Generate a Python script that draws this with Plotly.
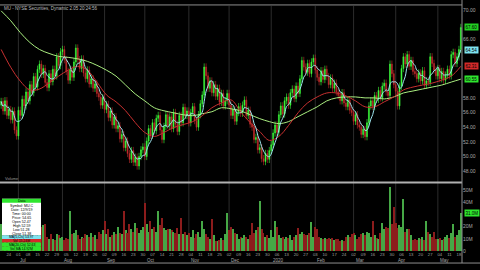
import pandas as pd
import plotly.graph_objects as go

# ---------------- data ----------------
close = [
    57.5, 56.2, 57.6, 55.6, 56.4, 55.0, 56.2, 53.6, 52.8, 56.3, 55.6,
    57.8, 56.9, 58.8, 57.6, 59.8, 58.7, 60.9, 59.5, 61.9, 62.6,
    61.2, 62.0, 60.1, 59.4, 61.3, 60.2,
    61.9, 61.0, 63.6, 62.4, 64.3, 64.6, 63.2,
    61.6, 60.4, 61.8, 60.8,
    62.9, 64.8,
    63.2, 62.0, 63.3, 61.4, 60.6, 61.8, 59.9, 60.6, 59.3, 59.9, 58.6, 58.1,
    57.0, 58.0, 56.4, 57.1, 55.3,
    56.2, 54.3, 55.4, 53.8, 54.2,
    52.4, 53.0, 51.2, 52.1, 50.4,
    49.6, 50.8, 49.2, 49.9, 48.7, 50.0,
    50.9, 51.3, 50.0,
    52.1, 53.8, 52.9, 54.6, 53.5, 55.2,
    55.6, 53.6, 52.3, 54.1, 55.7, 54.2,
    55.4, 53.8, 56.0, 54.4,
    53.4, 55.6, 54.6, 56.7, 55.6, 56.2,
    54.6, 56.0, 56.8, 54.9, 54.0, 55.7,
    57.2, 58.4, 62.2, 61.0, 59.3, 60.3, 58.7,
    59.8, 58.2, 59.3, 57.4, 58.6, 56.9, 57.6,
    58.6, 57.0, 55.6, 56.4, 54.8, 56.0,
    56.8, 55.9, 57.0, 57.7, 55.6, 56.3,
    54.4, 54.0, 52.3,
    52.6, 50.9, 51.2, 49.7, 49.3, 50.4, 49.6,
    50.8, 51.6, 53.2, 54.3, 53.3,
    55.7, 56.9, 55.8, 57.6,
    58.1, 57.0, 58.7, 59.2, 57.9, 59.6, 58.6,
    60.6, 63.1, 62.2, 61.5, 62.7, 61.3,
    62.9, 63.4, 61.8, 60.8,
    60.2, 61.7, 60.5, 61.9, 60.9, 59.8, 60.7, 59.3, 60.0, 58.8,
    58.3, 57.6, 58.7, 57.3, 56.8, 57.7, 56.3,
    56.0, 54.8, 55.7, 54.3, 54.0, 53.0, 53.7, 52.7,
    54.6, 56.9, 57.6, 56.8, 58.3,
    57.8, 59.0, 58.0, 59.6, 60.0, 58.8, 58.3, 62.6, 61.3, 59.8, 58.9,
    56.9, 59.6,
    62.0, 63.6, 62.6, 63.9,
    62.3, 63.1, 61.6,
    61.3, 60.6, 61.4, 60.3, 61.7, 59.7, 60.3,
    60.1, 63.6, 62.7,
    61.8, 61.0, 62.0, 60.6, 61.6, 60.4,
    61.1, 61.9, 61.0,
    63.9, 64.2, 62.7, 63.6, 64.6, 67.6,
]
first_open = 57.0
wick = 0.5

volume = [  # millions
    22, 18, 25, 15, 20, 17, 24, 28, 30, 26, 18, 16, 14, 19, 15, 13, 17, 14, 16, 12, 15, 20,
    21, 22, 12, 10, 14, 10, 9, 14, 13, 11, 12, 9, 11, 10,
    33, 14, 15, 17, 13, 10, 12, 11, 14, 13, 12, 15, 12, 13, 10,
    16, 14, 17, 25, 14, 18, 12, 13, 16, 14, 20, 15, 14, 33, 17,
    15, 22, 18, 16, 23, 19, 15, 17, 20, 39, 22, 16, 25, 18, 20,
    16, 33, 21, 27, 19, 17, 18, 18, 17, 16, 15, 19, 14, 27, 14,
    16, 13, 15, 12, 17, 11, 14, 16, 12, 25, 18, 14, 12, 10, 26,
    13, 8, 8, 9, 11, 9, 14, 31, 17, 20, 18, 15, 14, 10, 12,
    11, 13, 12, 10, 13, 23, 15, 17, 20, 41, 18, 15, 12, 13, 11,
    17, 12, 25, 20, 13, 11, 12, 10, 12, 11, 13, 9, 12, 13, 19,
    14, 16, 14, 13, 13, 15, 24, 12, 20, 18, 12, 11, 10, 11, 10,
    11, 10, 11, 9, 10, 10, 8, 9, 8, 12, 13, 12, 14, 15, 13,
    10, 12, 14, 15, 13, 16, 15, 12, 25, 13, 11, 10, 15, 23, 18,
    20, 19, 52, 22, 36, 23, 19, 21, 20, 43, 16, 18, 18, 13, 9,
    10, 9, 11, 10, 12, 9, 25, 16, 14, 12, 16, 10, 10, 11, 9,
    10, 12, 13, 11, 15, 22, 12, 13, 17, 31,
]

# moving averages read every 5 sessions
ma_step = 5
ma_red = [
    64.60, 62.17, 60.28, 59.07, 59.20, 60.01, 60.96, 61.77, 62.31, 61.77,
    60.15, 58.39, 57.45, 56.23, 54.62, 53.27, 52.73, 53.27, 53.94, 54.35,
    54.75, 55.56, 56.64, 57.31, 57.72, 56.10, 54.62, 53.40, 52.19, 52.73,
    54.21, 55.96, 57.31, 58.12, 58.66, 58.66, 58.26, 57.58, 56.77, 56.77,
    57.45, 58.12, 59.07, 59.47, 59.74, 60.01, 60.42, 60.96, 62.31,
]
ma_green = [
    69.87, 68.52, 66.90, 65.55, 64.60, 64.06, 63.66, 63.52, 63.32, 62.98,
    62.44, 61.77, 60.96, 59.74, 58.53, 57.58, 56.64, 56.23, 55.96, 55.69,
    55.56, 55.83, 56.10, 56.64, 56.50, 56.23, 55.69, 55.16, 54.75, 54.48,
    54.75, 55.43, 56.10, 56.77, 57.58, 57.99, 58.12, 58.12, 57.99, 57.99,
    57.85, 58.12, 58.66, 58.93, 59.20, 59.47, 59.74, 60.15, 60.55,
]
short_ma_len = 5

price_ticks = [48, 50, 52, 54, 56, 58, 60, 62, 64, 66, 68, 70]
vol_ticks = [0, 10, 20, 30, 40, 50]
vol_tick_labels = ["0", "10M", "20M", "30M", "40M", "50M"]
title_text = "MU - NYSE Securities, Dynamic 2.05 20:24:56"
info_header = "Data"
info_lines = ["Symbol: MU.C", "Date: 12/9/19", "Time: 00:00", "Price: 54.65",
              "Open 52.47", "High 52.59", "Low 51.28", "Close 51.38"]
info_bands = [("MA(5,Cls) 53.97", "#7fe3f0"), ("Vol 15.24M", "#d42a2a"),
              ("MA(20,Cls) 52.63", "#2ee62e"), ("Vol MA 14.92M", "#2ee62e")]

# ---------------- derived ----------------
dates = pd.bdate_range("2019-06-18", periods=len(close))
idx = list(range(len(close)))
opens = [first_open] + close[:-1]
high = [max(o, c) + wick for o, c in zip(opens, close)]
low = [min(o, c) - wick for o, c in zip(opens, close)]
short_ma = pd.Series(close).rolling(short_ma_len, min_periods=1).mean().tolist()
ma_x = [i * ma_step for i in range(len(ma_red))]

GREEN = "#3dff3d"
RED = "#c22c2c"
VG = "#46a846"
VR = "#8c1c1c"
vol_colors = [VG if c >= o else VR for o, c in zip(opens, close)]

W, H = 480, 270
def py(px):
    return (H - px) / H
def pxx(px):
    return px / W

XR = 462 / W
FONT = "Liberation Sans"

fig = go.Figure()
fig.add_trace(go.Candlestick(
    x=idx, open=opens, high=high, low=low, close=close,
    increasing=dict(line=dict(color=GREEN, width=0.6), fillcolor=GREEN),
    decreasing=dict(line=dict(color=RED, width=0.6), fillcolor=RED),
    whiskerwidth=0, showlegend=False, hoverinfo="skip", xaxis="x", yaxis="y"))
fig.add_trace(go.Scatter(x=ma_x, y=ma_green, mode="lines",
                         line=dict(color="#aaee80", width=1, shape="spline"),
                         showlegend=False, hoverinfo="skip", xaxis="x", yaxis="y"))
fig.add_trace(go.Scatter(x=ma_x, y=ma_red, mode="lines",
                         line=dict(color="#c83030", width=1, shape="spline"),
                         showlegend=False, hoverinfo="skip", xaxis="x", yaxis="y"))
fig.add_trace(go.Scatter(x=idx, y=short_ma, mode="lines",
                         line=dict(color="#9fe6f0", width=1, shape="spline"),
                         showlegend=False, hoverinfo="skip", xaxis="x", yaxis="y"))
fig.add_trace(go.Bar(x=idx, y=volume, marker=dict(color=vol_colors, line=dict(width=0)),
                     width=0.6, showlegend=False, hoverinfo="skip", xaxis="x2", yaxis="y2"))

# ticks from dates
week_idx = [i for i, d in enumerate(dates) if d.weekday() == 0]
week_txt = [dates[i].strftime("%d") for i in week_idx]
month_idx = [i for i, d in enumerate(dates) if i > 0 and d.month != dates[i - 1].month]
month_txt = [str(dates[i].year) if dates[i].month == 1 else dates[i].strftime("%b") for i in month_idx]

xr = [-0.6, len(close) - 0.4]
p_lo = 70 - (183 - 10) / 7.41
p_hi = 70 + (10 - 6) / 7.41
v_hi = (254 - 186) / 1.24

# last values shown in boxes on the right axis
boxes_price = [(close[-1], "#22d022"), (short_ma[-1], "#7fe3f0"),
               (ma_red[-1], "#d42a2a"), (ma_green[-1], "#2ee62e")]
box_vol = (volume[-1], "#2ee62e")
price_step = 7.41  # px per price unit
vol_step = 1.24    # px per million
shown_price = [t for t in price_ticks
               if all(abs(t - v) * price_step > 5 for v, _ in boxes_price)]
shown_vol = [(t, l) for t, l in zip(vol_ticks, vol_tick_labels)
             if abs(t - box_vol[0]) * vol_step > 5]

axis_font = dict(family=FONT, size=5, color="#a8a8a8")
fig.update_layout(
    width=W, height=H, margin=dict(l=0, r=0, t=0, b=0),
    paper_bgcolor="black", plot_bgcolor="black", bargap=0,
    font=dict(family=FONT, color="#aaaaaa"),
    xaxis=dict(domain=[0, XR], range=xr, showgrid=False, showticklabels=False,
               zeroline=False, rangeslider=dict(visible=False), anchor="y", ticks=""),
    xaxis2=dict(domain=[0, XR], range=xr, matches="x", anchor="y2", showgrid=False,
                zeroline=False, tickmode="array", tickvals=week_idx, ticktext=week_txt,
                tickfont=dict(family=FONT, size=4.2, color="#a0a0a0"), ticks=""),
    yaxis=dict(domain=[py(183), py(6)], range=[p_lo, p_hi], side="right", anchor="x",
               tickmode="array", tickvals=shown_price,
               ticktext=[f"{v:.2f}" for v in shown_price], tickfont=axis_font,
               showgrid=False, zeroline=False, ticks=""),
    yaxis2=dict(domain=[py(254), py(186)], range=[0, v_hi], side="right", anchor="x2",
                tickmode="array", tickvals=[t for t, _ in shown_vol],
                ticktext=[l for _, l in shown_vol],
                tickfont=axis_font, showgrid=False, zeroline=False, ticks=""),
)

shapes = []
for m in month_idx:
    shapes.append(dict(type="line", xref="x", yref="paper", x0=m, x1=m,
                       y0=py(254), y1=py(6), line=dict(color="#2c2c2c", width=1), layer="below"))
border = "#8e8e8e"
shapes += [
    dict(type="line", xref="paper", yref="paper", x0=0, x1=XR, y0=py(5), y1=py(5),
         line=dict(color=border, width=1)),
    dict(type="line", xref="paper", yref="paper", x0=0, x1=XR, y0=py(184.5), y1=py(184.5),
         line=dict(color="#b0b0b0", width=2)),
    dict(type="line", xref="paper", yref="paper", x0=0, x1=1, y0=py(266), y1=py(266),
         line=dict(color=border, width=1)),
    dict(type="line", xref="paper", yref="paper", x0=XR, x1=XR, y0=py(266), y1=1,
         line=dict(color=border, width=1)),
]
# info box
bx0, bx1 = pxx(2), pxx(41)
shapes.append(dict(type="rect", xref="paper", yref="paper", x0=bx0, x1=bx1,
                   y0=py(238), y1=py(201), fillcolor="white", line=dict(width=0)))
shapes.append(dict(type="rect", xref="paper", yref="paper", x0=bx0, x1=bx1,
                   y0=py(205), y1=py(201), fillcolor="#2ee62e", line=dict(width=0)))
band_edges = [238, 241.7, 245.2, 249.5, 253.5]
for k, (txt, col) in enumerate(info_bands):
    shapes.append(dict(type="rect", xref="paper", yref="paper", x0=bx0, x1=bx1,
                       y0=py(band_edges[k + 1]), y1=py(band_edges[k]),
                       fillcolor=col, line=dict(width=0)))
fig.update_layout(shapes=shapes)

ann = []
ann.append(dict(x=pxx(2), y=py(8.5), xref="paper", yref="paper", text=title_text,
                showarrow=False, xanchor="left", yanchor="middle",
                font=dict(family=FONT, size=4.5, color="#bbbbbb")))
ann.append(dict(x=pxx(3), y=py(181), xref="paper", yref="paper", text="Volume",
                showarrow=False, xanchor="left", yanchor="middle",
                font=dict(family=FONT, size=4, color="#999999")))
for m, t in zip(month_idx, month_txt):
    ann.append(dict(x=m, y=py(263), xref="x2", yref="paper", text=t, showarrow=False,
                    xanchor="left", yanchor="middle",
                    font=dict(family=FONT, size=4.5, color="#a8a8a8")))
ann.append(dict(x=(bx0 + bx1) / 2, y=py(203), xref="paper", yref="paper", text=info_header,
                showarrow=False, xanchor="center", yanchor="middle",
                font=dict(family=FONT, size=3.6, color="black")))
for k, t in enumerate(info_lines):
    ann.append(dict(x=(bx0 + bx1) / 2, y=py(208.5 + 4 * k), xref="paper", yref="paper",
                    text=t, showarrow=False, xanchor="center", yanchor="middle",
                    font=dict(family=FONT, size=3.6, color="black")))
for k, (txt, col) in enumerate(info_bands):
    ann.append(dict(x=(bx0 + bx1) / 2, y=py((band_edges[k] + band_edges[k + 1]) / 2),
                    xref="paper", yref="paper", text=txt, showarrow=False,
                    xanchor="center", yanchor="middle",
                    font=dict(family=FONT, size=3.4, color="black")))

def value_box(val, yref, label, bg, fg="black"):
    return dict(x=pxx(463.5), y=val, xref="paper", yref=yref, text=label, showarrow=False,
                xanchor="left", yanchor="middle", bgcolor=bg, borderpad=0.5,
                font=dict(family=FONT, size=4.5, color=fg))

for v, col in boxes_price:
    ann.append(value_box(v, "y", f"{v:.2f}", col))
ann.append(value_box(box_vol[0], "y2", f"{box_vol[0]:.1f}M", box_vol[1]))
fig.update_layout(annotations=ann)

fig.write_html("out.html")
